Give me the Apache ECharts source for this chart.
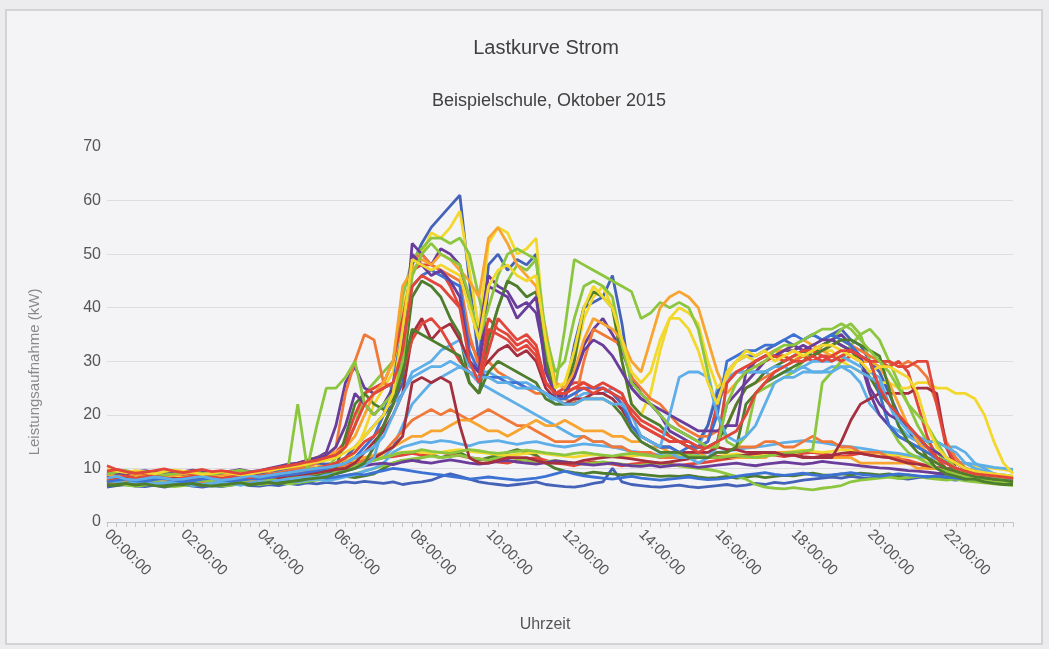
<!DOCTYPE html>
<html>
<head>
<meta charset="utf-8">
<script src="https://cdn.jsdelivr.net/npm/echarts@6/dist/echarts.min.js"></script>
<style>
html,body{margin:0;padding:0;background:#ececee;}
#chart{width:1049px;height:649px;}
</style>
</head>
<body>
<div id="chart"></div>
<script>
const chartTitle = 'Lastkurve Strom';
const chartSubtitle = 'Beispielschule, Oktober 2015';
const xAxisTitle = 'Uhrzeit';
const yAxisTitle = 'Leistungsaufnahme (kW)';
const yTicks = [0, 10, 20, 30, 40, 50, 60, 70];

const times = [
'00:00:00','00:15:00','00:30:00','00:45:00','01:00:00','01:15:00','01:30:00','01:45:00',
'02:00:00','02:15:00','02:30:00','02:45:00','03:00:00','03:15:00','03:30:00','03:45:00',
'04:00:00','04:15:00','04:30:00','04:45:00','05:00:00','05:15:00','05:30:00','05:45:00',
'06:00:00','06:15:00','06:30:00','06:45:00','07:00:00','07:15:00','07:30:00','07:45:00',
'08:00:00','08:15:00','08:30:00','08:45:00','09:00:00','09:15:00','09:30:00','09:45:00',
'10:00:00','10:15:00','10:30:00','10:45:00','11:00:00','11:15:00','11:30:00','11:45:00',
'12:00:00','12:15:00','12:30:00','12:45:00','13:00:00','13:15:00','13:30:00','13:45:00',
'14:00:00','14:15:00','14:30:00','14:45:00','15:00:00','15:15:00','15:30:00','15:45:00',
'16:00:00','16:15:00','16:30:00','16:45:00','17:00:00','17:15:00','17:30:00','17:45:00',
'18:00:00','18:15:00','18:30:00','18:45:00','19:00:00','19:15:00','19:30:00','19:45:00',
'20:00:00','20:15:00','20:30:00','20:45:00','21:00:00','21:15:00','21:30:00','21:45:00',
'22:00:00','22:15:00','22:30:00','22:45:00','23:00:00','23:15:00','23:30:00','23:45:00'];

const seriesNames = ['01.10.','02.10.','03.10.','04.10.','05.10.','06.10.','07.10.','08.10.','09.10.','10.10.',
'11.10.','12.10.','13.10.','14.10.','15.10.','16.10.','17.10.','18.10.','19.10.','20.10.',
'21.10.','22.10.','23.10.','24.10.','25.10.','26.10.','27.10.','28.10.','29.10.','30.10.','31.10.'];

const d01 = [9,8.5,9,9.5, 9,8.5,8.8,9.2, 8.6,8.3,8.8,9, 8.5,8.2,8.6,9, 9,8.8,9.5,9.8, 10,10.5,11,10.8, 11,12,14,16, 18,20,22,26, 48,52,55,57, 59,61,45,30, 48,50,47,49, 48,50,30,23, 24,33,40,41, 42,46,37,25, 23,22,20,18, 17,16,15,18, 24,28,30,31, 31,32,33,34, 33,34,35,34, 35,36,34,33, 30,28,24,20, 17,15,14,12, 11,10,9.5,9, 9,8.5,8,8];
const d02 = [8,7.5,8,8.5, 8.2,8,7.8,8.3, 8.5,8.8,8.2,8, 8,8.4,8.1,7.9, 8.2,8.6,9,9.2, 9.5,9.8,10.2,10, 10.5,11,13,17, 22,25,28,40, 46,50,54,53, 55,58,47,36, 52,55,54,50, 51,53,32,26, 25,30,38,42, 44,40,30,22, 20,24,32,38, 40,39,37,30, 25,27,30,31, 30,31,32,31, 30,32,33,32, 32,30,29,28, 27,26,26,25, 25,26,26,25, 25,24,24,23, 20,15,11,9];
const d03 = [7.5,7.8,7.2,7.6, 7.4,7,7.3,7.6, 7.2,7.5,7.8,7.4, 7,7.3,7.6,7.2, 7.5,7.8,8,8.2, 8.5,9,9.5,10, 12,14,18,24, 26,28,30,42, 49,51,53,53, 52,53,50,42, 34,40,45,48, 47,49,32,25, 36,49,48,47, 46,45,44,43, 38,39,41,40, 41,40,36,28, 20,15,14,16, 24,25,26,27, 28,30,32,33, 34,36,37,35, 30,24,18,15, 13,12,11,10, 9.5,9,8.5,8, 7.8,7.5,7.5,7.2];
const d04 = [8.8,9.2,8.9,9, 9.3,9,8.7,9.1, 8.9,9.2,9.5,9, 8.8,9.1,9.4,9, 9.2,9.6,10,10.5, 11,11.5,12,13, 18,26,29,25, 24,25,26,30, 52,50,48,51, 50,48,40,35, 46,44,43,40, 41,39,30,24, 23,28,33,36, 38,35,32,27, 24,22,20,17, 16,15,14,14, 15,22,24,26, 28,30,31,32, 32,33,32,33, 34,35,33,30, 24,20,18,16, 15,14,13,12, 11,10,9.5,9, 9,8.8,8.5,8.5];
const d05 = [10.5,9.8,9.5,9.2, 9,8.8,9.2,9.5, 9.1,8.8,8.5,8.9, 9.2,9.5,9,8.8, 9.3,9.6,10,10.4, 10.8,11.2,11.5,12, 13,15,20,24, 25,26,30,38, 47,48,48,47, 44,40,34,30, 38,36,35,33, 34,32,26,24, 25,26,26,25, 25,24,22,20, 18,17,16,15, 15,14,14,15, 22,26,28,29, 29,30,31,31, 30,31,30,31, 31,30,31,30, 30,30,29,30, 28,22,16,12, 10,9.5,9,8.8, 8.5,8,8,7.8];
const d06 = [8.2,8,7.8,8.1, 8.5,8.2,8,7.9, 8.3,8.6,8.8,8.4, 8.1,8.3,8.5,8.2, 8.6,8.9,9.2,9.6, 10,10.5,11,12, 14,24,30,35, 34,26,25,28, 49,50,48,47, 46,45,35,29, 30,28,27,26, 25,24,24,23, 23,22,30,36, 35,34,33,27, 25,23,22,20, 18,17,16,16, 17,18,22,25, 26,27,28,29, 30,31,32,32, 33,34,33,32, 31,30,30,29, 30,29,27,22, 15,12,10,9, 8.5,8.3,8,8];
const d07 = [7,6.8,7.2,7.5, 7.3,7,6.9,7.2, 7.4,7.1,6.8,7, 7.2,7.5,7.1,6.9, 7.2,7.4,7.6,7.8, 8,8.4,8.6,9, 10,16,22,24, 22,21,23,28, 42,45,44,42, 38,35,26,24, 34,40,45,44, 42,43,30,24, 24,30,40,43, 42,40,30,22, 20,19,18,16, 15,14,14,14, 15,18,22,25, 26,28,29,30, 31,32,31,33, 34,33,32,30, 27,24,22,20, 18,15,12,10, 9,8.5,8,8, 7.5,7.2,7,7];
const d08 = [7.8,7.5,7.2,7.6, 7.4,7.1,7.3,7.5, 7.7,7.3,7,7.2, 7.5,7.2,6.9,7.3, 7.6,7.4,7.8,8, 8.2,8.5,8.3,8.8, 9,9.5,10,10.5, 12,18,22,24, 28,29,30,32, 33,34,29,28, 28,27,27,26, 26,25,24,22, 22,23,24,24, 24,25,24,18, 15,14,13,13, 12,12,11,12, 14,26,28,28, 28,28,29,29, 28,29,30,30, 30,31,30,29, 28,27,22,18, 16,15,14,13, 12,11,10,9, 9,8.5,8.2,8];
const d09 = [8.5,8.2,8.4,8.1, 7.9,8.1,8.4,8.2, 8,7.8,8.1,8.3, 8.1,7.9,8.2,8.4, 8.2,8.5,8.3,8.6, 8.8,9,9.2,9.5, 9.8,10,11,13, 15,17,20,24, 35,38,34,36, 37,34,30,28, 30,32,33,31, 32,30,25,23, 22,23,23,24, 24,23,21,18, 16,15,14,14, 13,13,13,13, 14,13.5,13.5,13, 13,13,13,12.5, 12.5,12,12,12, 12,15,19,22, 23,24,24,24, 24,25,25,24, 14,10,9.5,9, 8.5,8.2,8,7.8];
const d10 = [8.9,8.5,8.7,9, 9.2,8.8,8.5,8.7, 9,9.3,9.1,8.8, 8.6,8.9,9.2,9, 9.4,9.8,10.2,10.6, 11,11.5,12,12.5, 13,14,16,20, 24,26,30,44, 47,49,48,50, 49,47,45,42, 53,55,52,48, 46,44,36,26, 25,28,34,38, 37,36,34,30, 28,34,40,42, 43,42,40,34, 28,24,26,28, 30,31,32,32, 33,34,33,32, 31,32,31,30, 30,29,26,22, 18,15,13,12, 11,10,9.5,9, 9,8.5,8.3,8];
const d11 = [7.5,7.8,8,7.7, 7.6,7.9,8.1,7.8, 7.5,7.7,8,8.2, 7.9,7.6,7.8,8, 8.1,8.3,8.6,8.8, 9,9.3,9.6,10, 10.5,11,12,14, 16,20,26,36, 44,46,47,46, 45,44,32,28, 27,27,26,26, 25,25,24,23, 23,24,25,25, 25,24,22,18, 16,15,14,14, 13,14,14,15, 20,30,31,32, 32,33,33,34, 35,34,35,34, 35,34,33,31, 30,24,18,16, 15,14,13,12, 11,10,9.5,9, 8.8,8.5,8,8];
const d12 = [9.5,9.2,9,9.4, 9.6,9.3,9,9.2, 9.4,9.7,9.3,9, 9.2,9.5,9.8,9.4, 9.6,10,10.4,10.8, 11,11.5,12,12.5, 14,18,24,22, 20,22,25,34, 50,48,46,47, 45,42,30,28, 44,43,42,38, 40,42,28,24, 24,27,32,34, 33,31,28,25, 23,22,21,20, 19,18,17,17, 17,18,18,28, 30,31,31,32, 33,32,33,34, 34,33,32,31, 25,22,20,19, 18,16,14,13, 12,11,10,9.5, 9,9,8.5,8.5];
const d13 = [8,8.3,8.6,8.2, 8.4,8.7,8.3,8, 8.2,8.5,8.8,8.4, 8.1,8.4,8.7,8.3, 8.5,8.8,9,9.3, 9.5,9.8,10,10.5, 11,12,13,15, 16,18,22,28, 34,37,38,36, 33,30,28,27, 36,35,34,32, 33,31,26,24, 24,25,25,24, 25,24,23,21, 19,18,17,16, 15,15,14,14, 14,26,28,29, 30,31,31,30, 31,32,32,31, 30,31,32,31, 30,30,30,29, 29,30,30,22, 14,11,10,9.5, 9,8.8,8.5,8.2];
const d14 = [6.8,7,7.2,6.9, 7.1,6.8,6.6,6.9, 7,7.2,6.9,6.7, 6.9,7.1,7.3,7, 7.2,7.4,7.1,7.5, 7.7,8,8.2,8.4, 9,9.5,10,11, 14,18,22,28, 36,35,34,33, 32,31,26,24, 28,30,29,28, 27,26,23,22, 22,22,23,23, 23,22,20,17, 15,14,13,13, 13,12,12,12, 13,13,14,22, 24,26,27,28, 29,30,31,32, 33,34,34,33, 32,31,25,18, 15,13,12,11, 10,9.5,9,8.5, 8.2,8,7.8,7.5];
const d15 = [8.2,8.5,8,7.8, 8.1,8.4,8.2,7.9, 8,8.3,8.5,8.1, 7.8,8,8.3,8.6, 8.4,8.7,9,9.2, 9.5,9.8,10,10.2, 10.5,11,12,13, 14,16,20,24, 27,28,29,29, 30,29,28,27, 27,26,26,25, 25,25,24,23, 22,22,23,23, 23,22,22,20, 16,15,14,20, 27,28,28,27, 20,16,15,16, 18,22,26,27, 27,28,28,28, 28,29,29,28, 27,26,22,19, 17,16,15,15, 14,13,11,10, 9.5,9,8.8,8.5];
const d16 = [7.2,7.5,7.8,7.4, 7.6,7.3,7.1,7.4, 7.6,7.9,7.5,7.2, 7.4,7.7,7.9,7.5, 7.8,8,8.2,8.5, 8.8,9,9.3,9.5, 10,10.5,11,11.5, 12,13,15,17, 19,20,21,20, 21,20,19,20, 21,20,19,18, 18,17,16,15, 15,15,16,15, 15,14,14,13, 13,13,12,12, 12,12,12,12, 13,13,14,14, 14,15,15,14, 14,15,16,15, 15,14,14,13, 13,13,12,12, 11,11,10,10, 9.5,9,9,8.8, 8.5,8.2,8,8];
const d17 = [8.6,8.3,8,8.4, 8.7,8.5,8.2,8, 8.3,8.6,8.9,8.5, 8.2,8.5,8.8,8.6, 8.9,9.2,9.4,9.6, 9.8,10,10.3,10.5, 11,11.5,12,12, 12.5,13,14,15, 16,16,17,17, 18,19,19,18, 17,17,16,17, 18,19,18,18, 19,18,17,17, 17,16,16,15, 15,14,14,13, 13,13,13,12, 12,12,12,12, 12,12,13,13, 13,12,12,12, 12,12,12,11, 11,11,11,11, 11,10,10,10, 10,10,9.5,9, 9,8.8,8.5,8.5];
const d18 = [6.5,6.8,7,6.7, 6.6,6.9,6.5,6.8, 7,6.7,6.5,6.8, 6.6,6.9,7.1,6.8, 6.7,7,6.8,7.2, 7,7.3,7.1,7.4, 7.2,7.5,7.3,7.6, 7.4,7.2,7.5,7, 7.3,7.5,7.8,8.5, 9,8.5,8,7.5, 7.2,7,6.8,7, 7.2,7.5,7,6.8, 6.6,6.5,6.8,7.2, 7.5,10,7.5,7, 6.8,6.6,6.5,6.7, 6.9,6.6,6.4,6.6, 6.8,7,6.7,6.9, 7.2,7,7.4,7.2, 7.5,7.8,8,8.2, 8.4,8.2,8.5,8.3, 8.1,8.4,8.6,8.2, 8,8.3,8.5,8.2, 8,7.8,8.1,7.9, 7.6,7.4,7.2,7];
const d19 = [7.5,7.3,7.6,7.8, 7.5,7.2,7.4,7.7, 7.4,7.1,7.3,7.6, 7.8,7.5,7.2,7.4, 7.6,7.9,7.7,8, 7.8,8.1,8.3,8, 8.2,8.5,8.3,8.6, 9,10,11,11.5, 11.5,12,12.5,12, 12.5,13,12,11.5, 12,12.5,13,13.5, 13,12.5,11,10, 9.5,9.2,9,9.3, 9.1,9,8.8,9, 8.9,8.7,8.5,8.6, 8.5,8.7,8.4,8.2, 8.3,8.5,8.2,8.4, 8.6,8.3,8.5,8.7, 8.6,8.9,9.1,8.8, 8.7,9,8.8,9.1, 9,8.8,9,8.6, 8.8,8.5,8.3,8.6, 8.4,8.2,8.5,8.1, 7.9,7.7,7.5,7.3];
const d20 = [8.8,9,8.6,8.4, 8.7,8.9,8.5,8.3, 8.6,8.8,9,8.7, 8.5,8.3,8.6,8.9, 8.7,9,9.2,9.5, 9.7,10,10.2,10.4, 10.6,11,11.2,11.5, 11.8,12,12.2,12.5, 12.8,12.5,12.8,13, 12.7,12.4,12,11.8, 11.5,11.2,11,11.5, 11.8,12,11.5,11, 10.8,10.5,11,11.2, 11,10.8,10.5,10.8, 11,11.2,11,10.8, 10.5,10.8,11,11.2, 11.5,11.8,12,12.2, 12.5,12.8,12.5,12.2, 12.5,12.8,13,12.7, 12.5,12.2,12.5,12.8, 12.5,12.2,12,11.8, 11.5,11,10.5,10, 9.8,9.5,9.2,9, 8.8,8.5,8.2,8];
const d21 = [7,7.2,6.9,6.7, 6.9,7.1,6.8,6.6, 6.8,7,7.2,6.9, 6.7,6.9,7.1,7.3, 7,7.2,7.4,7.1, 7.3,7.6,7.8,8, 8.3,8.6,9,9.5, 10,10.5,11,11.5, 11.8,12,12.3,12, 12.2,12.5,12,11.8, 11.5,12,12.2,11.8, 11.5,11,11.2,11.5, 11.2,11,10.8,11, 11.2,11,10.8,10.5, 10.6,10.8,11,10.7, 10.5,10.2,10,9.8, 9.5,9,8.5,8, 7,6.5,6.3,6.2, 6.4,6.2,6,6.3, 6.5,6.8,7.5,7.8, 8,8.2,8.4,8.1, 8.3,8.5,8.2,8, 7.8,8,7.7,7.5, 7.3,7.1,7,6.8];
const d22 = [8,8.3,8.6,8.2, 8.4,8.1,7.9,8.2, 8.5,8.8,8.4,8.1, 8.3,8.6,8.2,8, 8.4,8.7,9,9.3, 9.6,10,10.3,10.6, 11,11.3,11.6,12, 12.2,12.5,12.8,13, 13.2,13,12.8,13, 13.3,13.5,13.2,13, 12.8,12.6,12.4,12.6, 12.8,13,12.7,12.5, 12.3,12.1,12.4,12.6, 12.4,12.2,12,12.3, 12.5,12.3,12.1,12.4, 12.6,12.4,12.2,12, 12.2,12.5,12.7,12.4, 12.2,12.5,12.8,13, 13.2,13.4,13.2,13, 13.2,13.5,13.3,13.1, 13,12.8,12.6,12.4, 12.2,12,11.8,11.5, 11.2,11,10.8,10.5, 10.2,10,9.8,9.5];
const d23 = [7.2,7,7.3,7.5, 7.2,6.9,7.1,7.4, 7.1,6.8,7,7.3, 7.5,7.2,6.9,7.1, 7.3,7.6,7.4,7.7, 7.5,7.8,8,7.7, 8,8.4,8.8,9.5, 10,11,13,14, 14.5,15,14.8,15.2, 15,14.6,14.2,14.8, 15,15.2,14.8,14.5, 14.8,15,14.6,14.2, 14,14.3,14.6,14.4, 14.2,14,13.6,13.2, 13,12.8,12.5,12.2, 12,12.3,14,18, 25,27,28,28, 28,28,27,28, 28,29,28,28, 29,29,28,26, 22,20,18,17, 16,16,15,15, 14,14,13,11, 10,9,8.5,8];
const d24 = [8.2,8,8.3,8.5, 8.2,7.9,8.1,8.4, 8.6,8.3,8,8.2, 8.4,8.1,7.9,8.2, 8.4,8.7,8.5,8.8, 9,9.3,9.5,9.3, 9.6,10,10.5,11, 12,13,14,16, 26,27,26,27, 26,18,12,11, 11,11.5,12,12, 12,11.5,11,11, 11,11,11.5,11.8, 12,12.2,12,11.8, 11.5,11.2,11,11.2, 11.5,11.8,12,12, 12.2,12,12.3,12.5, 12.8,13,12.8,12.5, 12.5,12.2,12,12.3, 12.5,12.8,13,12.8, 12.5,12.2,12,11.5, 11,10.8,10.5,10.2, 10,9.8,9.5,9.2, 9,8.8,8.5,8.2];
const d25 = [9,9.3,9.6,9.2, 9.4,9.1,8.8,9, 9.3,9.5,9.1,8.9, 9.2,9.4,9.7,9.3, 9.5,9.8,10,10.2, 22,10,18,25, 25,27,30,22, 20,22,24,30, 46,50,52,50, 49,48,42,34, 40,46,50,51, 50,49,35,28, 30,38,44,45, 44,42,33,26, 24,22,20,18, 17,16,15,14, 14,22,26,28, 29,30,32,33, 33,34,35,36, 36,37,36,34, 32,30,28,25, 22,20,18,15, 12,10,9.5,9, 8.8,8.5,8.3,8.2];
const d26 = [7.8,7.5,7.7,8, 7.7,7.4,7.6,7.9, 7.6,7.3,7.5,7.8, 8,7.7,7.4,7.6, 7.8,8.1,7.9,8.2, 8,8.3,8.5,8.2, 8.4,8.7,9,8.8, 9.2,9.6,10,9.8, 9.5,9.2,9,8.8, 8.5,8.3,8,8.2, 8.4,8.2,8,7.8, 8,8.2,8.5,9, 9.5,9,8.6,8.4, 8.2,8,8.3,8.5, 8.2,8,7.8,8, 8.2,8.4,8.1,7.9, 8,8.2,8.5,8.8, 9,9.2,8.9,8.7, 8.9,9.1,8.8,8.6, 8.8,9,9.2,8.9, 8.7,8.5,8.8,9, 8.8,8.6,8.4,8.6, 8.4,8.2,8,8.3, 8.1,7.9,7.7,7.5];
const d27 = [8.4,8.7,8.5,8.2, 8.5,8.8,8.4,8.6, 8.9,8.6,8.3,8.5, 8.7,9,8.7,8.4, 8.6,8.9,9.2,9, 9.3,9.6,9.4,9.8, 10,10.3,10.1,10.5, 10.8,11,10.7,11.2, 11.5,11.2,11,11.3, 11.6,11.3,11,10.8, 11,11.3,11.5,11.2, 11,10.8,11.1,11.4, 11.2,11,10.8,10.6, 10.8,11,10.7,10.5, 10.4,10.6,10.3,10.5, 10.7,10.5,10.2,10.4, 10.6,10.8,11,10.7, 10.5,10.8,11,11.2, 11,10.8,11,11.3, 11.1,10.9,10.7,10.5, 10.3,10.1,10,9.8, 9.6,9.5,9.3,9.1, 9,8.8,8.6,8.5, 8.3,8.1,8,7.8];
const d28 = [8,7.8,8.1,8.3, 8,7.7,7.9,8.2, 8.4,8.1,7.8,8, 8.2,7.9,8.1,8.4, 8.1,8.4,8.6,8.3, 8.5,8.8,9,9.2, 9.5,10,10.5,11, 11.5,12,12.5,13, 13,13.5,13.2,13, 12.8,13.2,13.5,13.3, 13,12.8,13,13.2, 13.4,13.2,12.9,12.7, 12.5,12.8,13,12.7, 12.5,12.3,12.6,12.8, 12.6,12.4,12.2,12.5, 12.7,12.5,12.3,12.1, 12,12.2,12.4,12.2, 12,12.3,12.5,12.8, 13,13.2,13.5,26, 28,30,33,35, 36,34,30,26, 22,18,15,13, 11,10,9.5,9, 8.8,8.5,8.3,8];
const d29 = [9.8,9.5,9.2,9.6, 9.3,9,9.4,9.7, 9.5,9.2,8.9,9.1, 9.4,9.1,8.8,9, 9.3,9.6,9.9,10.2, 10.5,10.8,11.2,11.5, 12,13,14,16, 18,20,24,36, 49,48,47,48, 47,46,40,34, 44,47,48,46, 45,46,34,25, 26,32,40,44, 42,40,34,28, 26,28,34,38, 38,36,32,26, 22,28,30,32, 31,32,30,31, 32,31,32,33, 33,32,31,30, 28,29,29,28, 27,24,18,14, 12,11,10,9.5, 9.2,9,8.8,8.5];
const d30 = [9.5,9.8,9.4,9.1, 9.3,9.6,9.9,9.5, 9.2,9.5,9.8,9.4, 9.6,9.3,9,9.3, 9.6,9.9,10.2,10.5, 10.8,11.2,11.5,12, 12.5,14,18,22, 24,25,26,32, 44,46,45,44, 42,40,30,26, 32,38,36,34, 35,33,26,24, 24,25,26,25, 26,25,24,20, 18,17,16,15, 15,14,13,14, 15,16,17,20, 24,26,28,29, 30,30,31,30, 31,32,32,31, 30,25,22,20, 18,16,14,12, 11,10,9.5,9, 8.8,8.6,8.4,8.2];
const d31 = [7.4,7.7,7.5,7.2, 7.5,7.8,7.6,7.3, 7.6,7.9,7.7,7.4, 7.2,7.5,7.8,7.6, 7.9,8.2,8,8.4, 8.6,8.9,9.2,9.5, 9.8,10.2,10.6,11, 11.5,12,14,18, 22,24,26,27, 28,29,28,26, 25,24,23,22, 21,20,19,18, 17,16,16,15, 15,14,14,13, 13,12.5,12,12, 12,12.2,12.5,13, 13,13.2,13.5,13.8, 14,14.2,14.5,14.8, 15,15.2,15,14.8, 14.5,14.2,14,13.8, 13.5,13.2,13,12.8, 12.5,12.2,12,11.8, 11.5,11.2,11,10.8, 10.5,10.2,10,9.8];

const dayData = [d01,d02,d03,d04,d05,d06,d07,d08,d09,d10,d11,d12,d13,d14,d15,d16,d17,d18,d19,d20,d21,d22,d23,d24,d25,d26,d27,d28,d29,d30,d31];

const lineColors = ['#4462b8','#f2d82c','#8cc63f','#6a3d9a','#e2453a','#f0793a','#4e7d2e','#5eaee8','#a52f3f','#f7a530',
'#3c72d4','#6a3d9a','#e2453a','#4e7d2e','#5eaee8','#f0793a','#f7a530','#4462b8','#4e7d2e','#e2453a',
'#8cc63f','#f2d82c','#5eaee8','#a52f3f','#8cc63f','#3c72d4','#6a3d9a','#8cc63f','#f2d82c','#e2453a','#5eaee8'];

// draw low lines first so the school-day curves lie on top
const drawOrder = [17,18,19,20,21,22,25,26,30,15,16,23,27,0,1,2,3,4,5,6,7,8,9,10,11,12,13,14,24,28,29];

const series = drawOrder.map(i => ({
  name: seriesNames[i],
  type: 'line',
  data: dayData[i],
  symbol: 'none',
  smooth: false,
  lineStyle: { width: 2.8, color: lineColors[i] },
  itemStyle: { color: lineColors[i] },
  emphasis: { disabled: true },
  z: 2
}));

const chart = echarts.init(document.getElementById('chart'), null, { renderer: 'canvas' });
const font = '"Liberation Sans", Arial, sans-serif';
chart.setOption({
  animation: false,
  backgroundColor: '#ececee',
  graphic: [
    { type: 'rect', shape: { x: 6, y: 10, width: 1036, height: 634 }, style: { fill: '#f4f4f6', stroke: '#c9c9cc', lineWidth: 1.5 }, z: -10 },
    { type: 'text', x: 35, y: 372, rotation: Math.PI / 2, style: { text: yAxisTitle, font: '15px ' + font, fill: '#8a8a8e', align: 'center', verticalAlign: 'middle' } },
    { type: 'text', x: 545, y: 625, style: { text: xAxisTitle, font: '16px ' + font, fill: '#555', align: 'center', verticalAlign: 'middle' } }
  ],
  title: [
    { text: chartTitle, left: 541, top: 33, textAlign: 'center', textStyle: { fontFamily: font, fontSize: 20, fontWeight: 'normal', color: '#404040' } },
    { text: chartSubtitle, left: 544, top: 87, textAlign: 'center', textStyle: { fontFamily: font, fontSize: 18, fontWeight: 'normal', color: '#404040' } }
  ],
  grid: { left: 107, right: 36, top: 147, bottom: 127, containLabel: false },
  xAxis: {
    type: 'category',
    data: times,
    boundaryGap: false,
    axisLine: { lineStyle: { color: '#c4c4c8', width: 1 } },
    axisTick: { show: true, interval: 0, length: 5, lineStyle: { color: '#c4c4c8' } },
    axisLabel: { interval: 7, rotate: -45, margin: 10, fontFamily: font, fontSize: 15, color: '#555' },
    splitLine: { show: false }
  },
  yAxis: {
    type: 'value',
    min: yTicks[0],
    max: yTicks[yTicks.length - 1],
    interval: 10,
    axisLine: { show: false },
    axisTick: { show: false },
    axisLabel: { margin: 6, fontFamily: font, fontSize: 16, color: '#555' },
    splitLine: { show: true, showMaxLine: false, lineStyle: { color: '#dcdce2', width: 1 } }
  },
  series: series
});
</script>
</body>
</html>
